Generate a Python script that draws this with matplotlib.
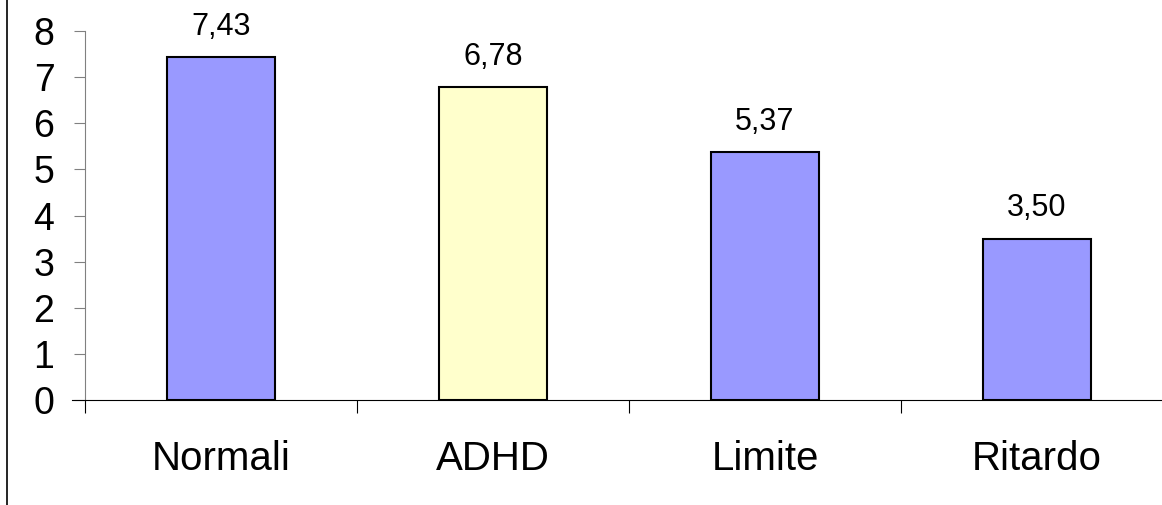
import matplotlib.pyplot as plt
from matplotlib.lines import Line2D

plt.rcParams['font.family'] = ['Liberation Sans', 'DejaVu Sans']

categories = ['Normali', 'ADHD', 'Limite', 'Ritardo']
values = [7.43, 6.78, 5.37, 3.50]
colors = ['#9999FF', '#FFFFCC', '#9999FF', '#9999FF']
y_ticks = [0, 1, 2, 3, 4, 5, 6, 7, 8]

W, H = 1162, 505
fig = plt.figure(figsize=(W / 100, H / 100), dpi=100)
ax = fig.add_axes([85 / W, (H - 400) / H, (W - 85) / W, 369 / H])

x = list(range(len(categories)))
ax.bar(x, values, width=0.40, color=colors, edgecolor='black', linewidth=1.5, zorder=3)

for xi, v in zip(x, values):
    ax.annotate(f'{v:.2f}'.replace('.', ','), (xi, v), xytext=(0, 16),
                textcoords='offset points', ha='center', va='baseline', fontsize=22)

ax.set_yticks(y_ticks)
ax.tick_params(axis='y', length=8, width=0.8, color='#808080', pad=14, labelsize=27)

# category boundaries as major ticks, names on minor ticks
ax.set_xticks([i - 0.5 for i in range(len(categories) + 1)])
ax.set_xticklabels([])
ax.set_xticks(x, minor=True)
ax.set_xticklabels(categories, minor=True)
ax.tick_params(axis='x', which='major', length=9, width=0.8, color='black', direction='out')
ax.tick_params(axis='x', which='minor', length=0, pad=29, labelsize=29)

# the last category runs off the right edge
ax.set_xlim(-0.5, len(categories) - 0.5 - 11 / 272)
ax.set_ylim(0, 8)

for s in ['top', 'right']:
    ax.spines[s].set_visible(False)
ax.spines['left'].set_color('#808080')
ax.spines['left'].set_linewidth(0.8)
ax.spines['bottom'].set_color('black')
ax.spines['bottom'].set_linewidth(0.8)

# black zero line stretching over the y tick
ax.add_line(Line2D([-13 / 1077, 0], [0, 0], transform=ax.transAxes, color='black',
                   linewidth=0.8, clip_on=False))

# left frame edge
fig.add_artist(Line2D([6.5 / W, 6.5 / W], [0, 1], transform=fig.transFigure,
                      color='black', linewidth=1.2))

fig.savefig('out.png', dpi=100)
